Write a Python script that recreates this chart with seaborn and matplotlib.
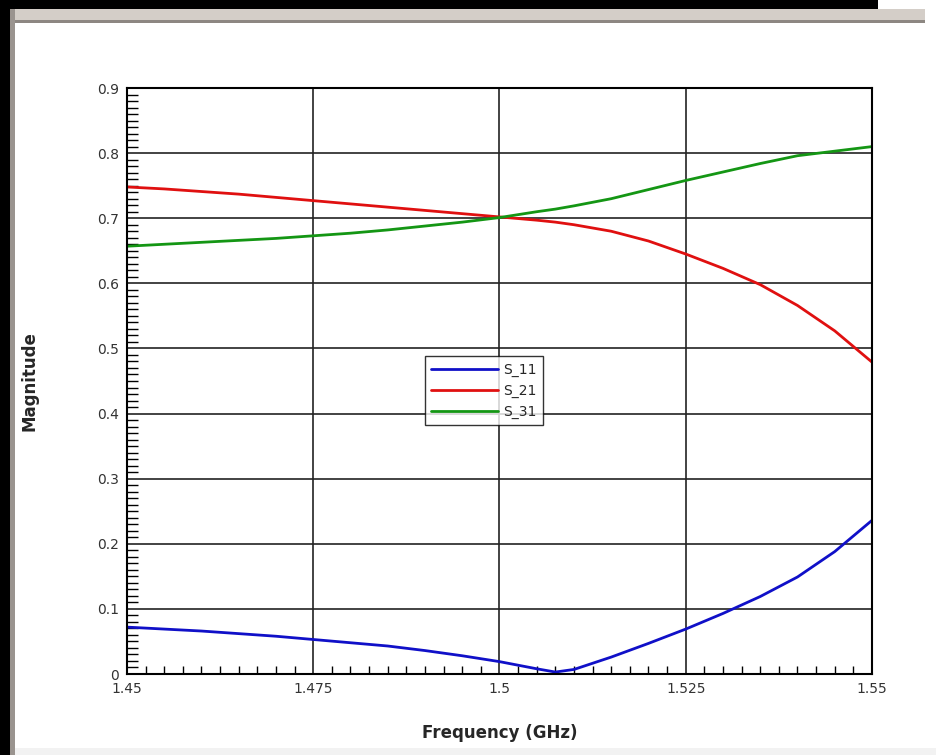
import numpy as np
import pandas as pd
import matplotlib
matplotlib.use("Agg")
import matplotlib.pyplot as plt
from matplotlib.patches import Rectangle
from matplotlib.ticker import MultipleLocator, FixedLocator
import seaborn as sns

# Frequency sweep (GHz) and S-parameter magnitudes
freq = [1.450, 1.455, 1.460, 1.465, 1.470, 1.475, 1.480, 1.485, 1.490, 1.495,
        1.500, 1.505, 1.5075, 1.510, 1.515, 1.520, 1.525, 1.530, 1.535, 1.540,
        1.545, 1.550]
s11 = [0.072, 0.069, 0.066, 0.062, 0.058, 0.053, 0.048, 0.043, 0.036, 0.028,
       0.019, 0.008, 0.003, 0.007, 0.026, 0.047, 0.069, 0.093, 0.119, 0.149,
       0.188, 0.236]
s21 = [0.748, 0.745, 0.741, 0.737, 0.732, 0.727, 0.722, 0.717, 0.712, 0.707,
       0.702, 0.697, 0.694, 0.690, 0.680, 0.665, 0.645, 0.623, 0.598, 0.566,
       0.527, 0.479]
s31 = [0.657, 0.660, 0.663, 0.666, 0.669, 0.673, 0.677, 0.682, 0.688, 0.694,
       0.701, 0.710, 0.714, 0.719, 0.730, 0.744, 0.758, 0.771, 0.784, 0.796,
       0.803, 0.810]
series_names = ["S_11", "S_21", "S_31"]
series_colors = ["#1010c8", "#e01010", "#149614"]
x_ticks = [1.45, 1.475, 1.5, 1.525, 1.55]
x_tick_labels = ["1.45", "1.475", "1.5", "1.525", "1.55"]
y_ticks = [0, 0.1, 0.2, 0.3, 0.4, 0.5, 0.6, 0.7, 0.8, 0.9]
y_tick_labels = ["0", "0.1", "0.2", "0.3", "0.4", "0.5", "0.6", "0.7", "0.8", "0.9"]

df = pd.concat([
    pd.DataFrame({"Frequency": freq, "Magnitude": vals, "Param": name})
    for name, vals in zip(series_names, [s11, s21, s31])
], ignore_index=True)

sns.set_style("white")
plt.rcParams["font.family"] = ["DejaVu Sans"]

fig = plt.figure(figsize=(9.37, 7.55), dpi=100)
W, H = 937, 755

def px_rect(x0, y0, x1, y1, color):
    fig.patches.append(Rectangle((x0 / W, 1 - y1 / H), (x1 - x0) / W, (y1 - y0) / H,
                                 transform=fig.transFigure, color=color,
                                 zorder=0, linewidth=0))

# window frame around the plot
px_rect(0, 0, 878, 9, "black")
px_rect(0, 0, 10, H, "black")
px_rect(10, 9, 925, 23, "#d4cec8")
px_rect(10, 20, 925, 23, "#8d8782")
px_rect(10, 9, 15, H, "#9a948f")
px_rect(15, 748, W, H, "#f2f2f2")

ax = fig.add_axes([127 / W, 1 - 674 / H, (872 - 127) / W, (674 - 88) / H])

sns.lineplot(data=df, x="Frequency", y="Magnitude", hue="Param",
             hue_order=series_names, palette=series_colors,
             linewidth=2, ax=ax, legend=True)

ax.set_xlim(1.45, 1.55)
ax.set_ylim(0, 0.9)
ax.xaxis.set_major_locator(FixedLocator(x_ticks))
ax.set_xticklabels(x_tick_labels)
ax.yaxis.set_major_locator(FixedLocator(y_ticks))
ax.set_yticklabels(y_tick_labels)
ax.xaxis.set_minor_locator(MultipleLocator(0.0025))
ax.yaxis.set_minor_locator(MultipleLocator(0.01))
ax.tick_params(which="major", length=0, labelsize=10, colors="#333333", pad=6)
ax.tick_params(axis="x", which="minor", direction="in", length=6, width=1,
               bottom=True, top=False, color="black")
ax.tick_params(axis="y", which="minor", direction="in", length=8, width=1,
               left=True, right=False, color="black")

ax.grid(True, which="major", color="#222222", linewidth=1.2)
ax.set_axisbelow(True)
for sp in ax.spines.values():
    sp.set_color("black")
    sp.set_linewidth(1.5)

ax.set_xlabel("Frequency (GHz)", fontsize=12, fontweight="bold", labelpad=20)
ax.set_ylabel("Magnitude", fontsize=12, fontweight="bold", labelpad=42)

leg = ax.legend(loc="lower left", bbox_to_anchor=(0.4, 0.425), fontsize=10,
                frameon=True, fancybox=False, handlelength=4.8,
                borderpad=0.45, labelspacing=0.5, handletextpad=0.4,
                borderaxespad=0)
leg.get_frame().set_edgecolor("black")
leg.get_frame().set_linewidth(1.0)
leg.set_title(None)

fig.savefig("out.png", dpi=100, facecolor="white")
